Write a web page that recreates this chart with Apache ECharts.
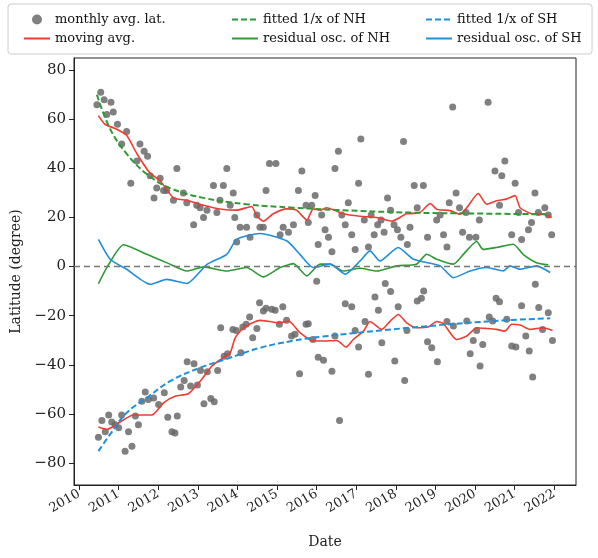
<!DOCTYPE html>
<html><head><meta charset="utf-8">
<script src="https://cdn.jsdelivr.net/npm/echarts@6/dist/echarts.min.js"></script>
<style>html,body{margin:0;padding:0;background:#fff}#main{width:598px;height:558px}</style>
</head><body><div id="main"></div>
<script>
// monthly average latitudes, [year, degree]
var nhPoints = [[2010.23,66],[2010.33,71],[2010.42,68],[2010.49,62],[2010.6,67],[2010.66,63],[2010.77,58],[2010.88,50],[2011.01,55],[2011.12,34],[2011.28,43],[2011.36,50],[2011.47,47],[2011.56,45],[2011.63,37],[2011.73,28],[2011.8,32],[2011.89,36],[2011.98,31],[2012.06,31],[2012.24,27],[2012.33,40],[2012.5,30],[2012.59,26],[2012.77,17],[2012.85,25],[2012.94,24],[2013.03,20],[2013.12,23],[2013.29,33],[2013.38,22],[2013.46,27],[2013.55,33],[2013.64,40],[2013.73,25],[2013.81,30],[2013.85,20],[2013.9,10],[2013.99,16],[2014.16,16],[2014.25,12],[2014.43,21],[2014.51,16],[2014.6,16],[2014.67,31],[2014.76,42],[2014.93,42],[2015.04,13],[2015.12,16],[2015.26,14],[2015.39,17],[2015.52,31],[2015.61,39],[2015.72,25],[2015.78,18],[2015.87,25],[2015.96,29],[2016.0,-6],[2016.04,9],[2016.13,21],[2016.22,15],[2016.31,12],[2016.4,6],[2016.48,40],[2016.57,47],[2016.66,21],[2016.75,17],[2016.83,26],[2016.92,13],[2017.01,7],[2017.1,34],[2017.16,52],[2017.25,19],[2017.36,8],[2017.43,21],[2017.51,13],[2017.6,17],[2017.69,19],[2017.77,14],[2017.86,28],[2017.94,23],[2018.03,17],[2018.12,15],[2018.21,12],[2018.28,51],[2018.38,9],[2018.45,16],[2018.56,33],[2018.64,24],[2018.8,33],[2018.91,12],[2019.15,19],[2019.24,21],[2019.33,13],[2019.42,8],[2019.48,26],[2019.57,65],[2019.66,30],[2019.75,24],[2019.83,14],[2019.92,22],[2020.01,12],[2020.18,12],[2020.27,19],[2020.5,67],[2020.68,39],[2020.8,25],[2020.86,37],[2020.94,43],[2021.12,13],[2021.21,34],[2021.3,22],[2021.38,11],[2021.56,15],[2021.64,18],[2021.73,30],[2021.82,22],[2021.99,24],[2022.08,21],[2022.17,13]];
var shPoints = [[2010.27,-69.5],[2010.36,-62.7],[2010.45,-67.3],[2010.54,-60.5],[2010.62,-63.3],[2010.71,-64.4],[2010.8,-65.7],[2010.88,-60.5],[2010.97,-75.2],[2011.06,-67.3],[2011.15,-73.2],[2011.24,-60.9],[2011.32,-64.4],[2011.41,-54.9],[2011.5,-51.1],[2011.58,-54.2],[2011.72,-53.5],[2011.85,-56.2],[2012.0,-51.4],[2012.09,-61.4],[2012.2,-67.3],[2012.28,-67.8],[2012.34,-60.9],[2012.43,-49.1],[2012.52,-46.4],[2012.6,-38.8],[2012.69,-48.7],[2012.78,-39.6],[2012.87,-48.3],[2012.95,-42.3],[2013.04,-55.9],[2013.13,-42.9],[2013.22,-53.8],[2013.31,-55.1],[2013.4,-42.3],[2013.48,-24.9],[2013.57,-36.5],[2013.66,-35.5],[2013.8,-25.6],[2013.89,-26],[2014.01,-35.1],[2014.06,-24.6],[2014.15,-23.5],[2014.24,-20.5],[2014.32,-29],[2014.43,-25.2],[2014.5,-14.7],[2014.6,-18.1],[2014.67,-17],[2014.82,-17.4],[2014.91,-17.8],[2015.02,-23.5],[2015.11,-16.4],[2015.21,-21.9],[2015.34,-28.3],[2015.43,-27.6],[2015.55,-43.7],[2015.72,-23.5],[2015.78,-23.3],[2015.9,-29.7],[2016.04,-36.9],[2016.18,-38.2],[2016.4,-42.6],[2016.48,-28.3],[2016.6,-62.7],[2016.75,-15.1],[2016.92,-16.4],[2017.01,-26],[2017.1,-32.8],[2017.27,-22.4],[2017.36,-43.9],[2017.53,-12.4],[2017.62,-17.8],[2017.71,-31],[2017.8,-6.9],[2017.94,-10.2],[2018.05,-38.5],[2018.14,-16.4],[2018.31,-46.4],[2018.37,-26],[2018.64,-14],[2018.75,-12.9],[2018.81,-9.9],[2018.91,-30.6],[2019.02,-33.1],[2019.17,-38.8],[2019.42,-22.4],[2019.59,-24.2],[2019.94,-22.2],[2020.03,-35.5],[2020.11,-30.1],[2020.2,-26],[2020.29,-40.5],[2020.36,-31.7],[2020.53,-20.5],[2020.62,-22.2],[2020.71,-12.9],[2020.8,-14.3],[2020.99,-21.5],[2021.12,-32.4],[2021.23,-32.8],[2021.38,-16],[2021.49,-28.3],[2021.58,-34.4],[2021.67,-45],[2021.74,-7.2],[2021.83,-16.7],[2021.93,-25.6],[2022.08,-18.8],[2022.19,-30.1]];

var nhMoving = [[2010.27,61.5],[2010.44,58],[2010.75,56],[2011.01,53.5],[2011.28,46],[2011.63,38],[2011.89,35],[2012.24,28],[2012.59,27],[2013.03,25],[2013.46,23.5],[2013.9,23],[2014.29,24.5],[2014.43,20.5],[2014.6,18.5],[2014.86,21.5],[2015.21,23.5],[2015.47,23],[2015.74,19],[2015.91,23.5],[2016.09,23],[2016.26,24],[2016.7,21.5],[2017.14,20.5],[2017.58,20],[2017.97,18.5],[2018.36,21.5],[2018.71,22],[2018.98,25.7],[2019.15,23.4],[2019.5,22.8],[2019.76,21.3],[2019.94,24],[2020.24,29.8],[2020.46,25.4],[2020.72,26.8],[2020.98,27.5],[2021.21,28.9],[2021.34,24],[2021.69,21.4],[2021.95,21.4],[2022.17,20]];
var shMoving = [[2010.27,-65.4],[2010.49,-66.4],[2010.84,-63.3],[2011.19,-60.5],[2011.67,-60.5],[2011.98,-55.5],[2012.28,-52.8],[2012.63,-51.8],[2012.94,-46.7],[2013.25,-40.5],[2013.55,-37.1],[2013.73,-35.1],[2013.86,-29],[2014.08,-24.9],[2014.51,-21.9],[2014.78,-22.4],[2015.04,-22.9],[2015.26,-22.2],[2015.56,-26.9],[2015.91,-30.3],[2016.18,-30.3],[2016.53,-30.1],[2016.77,-32.8],[2016.96,-29.7],[2017.23,-26.3],[2017.4,-22.4],[2017.71,-25.6],[2017.93,-22.2],[2018.14,-19.5],[2018.36,-22.9],[2018.62,-24.9],[2018.93,-24.6],[2019.15,-22.4],[2019.33,-23.3],[2019.67,-29.7],[2019.94,-28.3],[2020.2,-24.9],[2020.46,-25.2],[2020.72,-25.6],[2020.94,-26.3],[2021.12,-23.5],[2021.34,-23.8],[2021.6,-25.6],[2021.95,-24.9],[2022.19,-26]];

var nhFit = [[2010.23,70],[2010.58,56],[2011.01,46],[2011.54,37.7],[2012.15,32],[2013.03,28],[2014.16,25.4],[2015.39,24],[2016.5,23.1],[2018.45,22],[2020.3,21.6],[2022.13,21.3]];
var shFit = [[2010.27,-75.2],[2010.58,-68.3],[2011.01,-59.6],[2011.54,-53.5],[2012.15,-46.7],[2012.94,-41.2],[2013.64,-37.6],[2014.51,-33.1],[2015.39,-30.2],[2016.1,-28.6],[2018.45,-24.9],[2020.64,-22.2],[2022.13,-21.1]];

var nhResidual = [[2010.27,-7],[2010.49,-0.4],[2010.93,8.9],[2011.54,5],[2012.15,1],[2012.59,-1.8],[2013.03,-0.1],[2013.64,-1.8],[2014.16,-0.4],[2014.6,-4.2],[2015.04,-0.4],[2015.39,1.2],[2015.74,-3.8],[2016.09,1],[2016.35,1],[2016.7,-1.8],[2017.14,-0.7],[2017.58,-1.8],[2018.1,0.3],[2018.62,1],[2018.89,5],[2019.15,3],[2019.59,1],[2019.85,5],[2020.2,10.2],[2020.37,7],[2020.72,7.8],[2021.16,9.1],[2021.42,5],[2021.77,1.6],[2022.08,0.7]];
var shResidual = [[2010.27,11.1],[2010.58,3],[2011.01,-1.1],[2011.63,-7.2],[2012.06,-5.2],[2012.59,-6.9],[2013.12,0.9],[2013.64,5],[2013.9,11.1],[2014.51,13.5],[2015.21,10.5],[2015.56,5],[2015.91,-0.4],[2016.35,1],[2016.75,-3.1],[2017.14,2.3],[2017.4,6.4],[2017.66,2.3],[2018.14,7.8],[2018.54,3],[2019.24,0.3],[2019.59,-4.5],[2020.03,-1.8],[2020.46,-0.4],[2020.9,-1.8],[2021.07,0.3],[2021.34,-1.1],[2021.77,0.3],[2022.13,-2.4]];

var yearTicks = [2010,2011,2012,2013,2014,2015,2016,2017,2018,2019,2020,2021,2022];
var latTicks = [-80,-60,-40,-20,0,20,40,60,80];

// the dates above were read against a slightly wrong year grid; correct them to the real tick spacing
function fixDates(arr) {
    return arr.map(function (p) {
        return [2010 + (9 + (p[0] - 2010) * 38.1) / 39.6, p[1]];
    });
}

var font = 'DejaVu Serif';
var red = '#f03c30', green = '#2e9a35', blue = '#1f8fdc', gray = '#6a6a6a';

var myChart = echarts.init(document.getElementById('main'));

function line(name, data, color, dashed) {
    return {
        name: name, type: 'line', data: fixDates(data), symbol: 'none', smooth: dashed ? 0.4 : 0.2,
        lineStyle: {color: color, width: dashed ? 2 : 1.6, type: dashed ? [6, 3] : 'solid'},
        itemStyle: {color: color}, z: 3
    };
}

var legendText = {fontFamily: font, fontSize: 13, color: '#111'};
function lineItem(name) {
    return {name: name, itemStyle: {opacity: 0}};
}
function legendCol(left, names) {
    return {orient: 'vertical', left: left, top: 8, itemGap: 6, itemWidth: 26, itemHeight: 10,
        textStyle: legendText, z: 20, data: names};
}

myChart.setOption({
    animation: false,
    textStyle: {fontFamily: font},
    grid: {left: 74, right: 22, top: 58, bottom: 73, show: true, borderColor: '#222', borderWidth: 1},
    graphic: [{
        type: 'rect', shape: {x: 8, y: 4, width: 584, height: 50, r: 3},
        style: {fill: 'rgba(255,255,255,0.9)', stroke: '#ccc', lineWidth: 1}, z: 10
    }],
    legend: [
        legendCol(18, [{name: 'monthly avg. lat.', icon: 'circle', itemStyle: {color: gray}}, lineItem('moving avg.')]),
        legendCol(226, [lineItem('fitted 1/x of NH'), lineItem('residual osc. of NH')]),
        legendCol(420, [lineItem('fitted 1/x of SH'), lineItem('residual osc. of SH')])
    ],
    xAxis: {
        type: 'value', min: 2009.87, max: 2022.55,
        name: 'Date', nameLocation: 'middle', nameGap: 50,
        nameTextStyle: {fontFamily: font, fontSize: 14, color: '#222'},
        splitLine: {show: false},
        axisLine: {onZero: false, lineStyle: {color: '#222'}},
        axisTick: {show: true, customValues: yearTicks, length: 5, lineStyle: {color: '#222'}},
        axisLabel: {customValues: yearTicks, rotate: 30, fontSize: 13, color: '#222', margin: 8,
            formatter: function (v) { return String(v); }}
    },
    yAxis: {
        type: 'value', min: -89, max: 85,
        name: 'Latitude (degree)', nameLocation: 'middle', nameGap: 46,
        nameTextStyle: {fontFamily: font, fontSize: 14, color: '#222'},
        splitLine: {show: false},
        axisLine: {show: true, onZero: false, lineStyle: {color: '#222'}},
        axisTick: {show: true, customValues: latTicks, length: 5, lineStyle: {color: '#222'}},
        axisLabel: {customValues: latTicks, fontSize: 15, color: '#222',
            formatter: function (v) { return v < 0 ? '\u2212' + (-v) : String(v); }}
    },
    series: [
        {name: 'monthly avg. lat.', type: 'scatter', data: fixDates(nhPoints), symbolSize: 7,
         itemStyle: {color: gray, opacity: 0.85}, z: 2,
         markLine: {silent: true, symbol: 'none', label: {show: false},
            lineStyle: {color: '#777', type: [6, 4], width: 1.3}, data: [{yAxis: 0}]}},
        {name: 'monthly avg. lat.', type: 'scatter', data: fixDates(shPoints), symbolSize: 7,
         itemStyle: {color: gray, opacity: 0.85}, z: 2},
        line('moving avg.', nhMoving, red, false),
        line('moving avg.', shMoving, red, false),
        line('fitted 1/x of NH', nhFit, green, true),
        line('fitted 1/x of SH', shFit, blue, true),
        line('residual osc. of NH', nhResidual, green, false),
        line('residual osc. of SH', shResidual, blue, false)
    ]
});
</script>
</body></html>
